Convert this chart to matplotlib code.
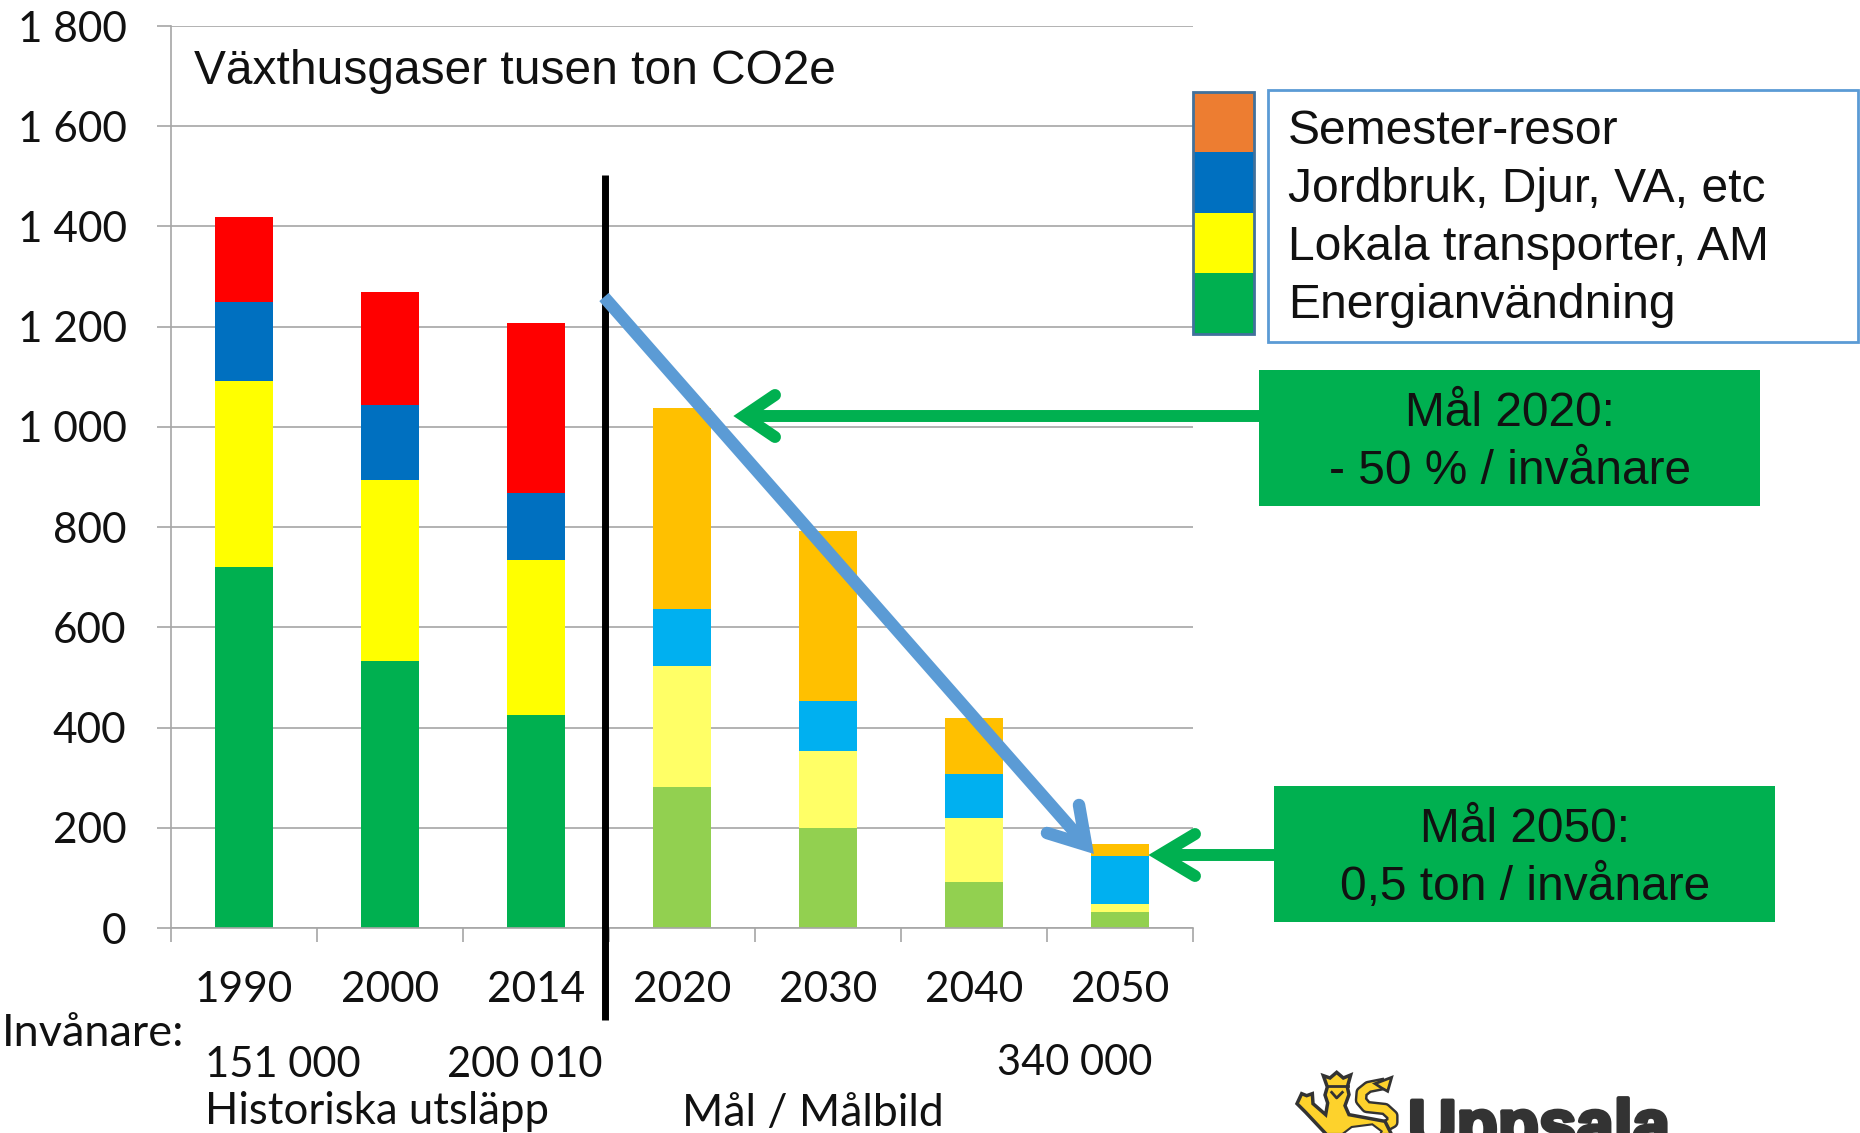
import numpy as np
import matplotlib
matplotlib.use('Agg')
import matplotlib.pyplot as plt
import matplotlib.patheffects as pe
from matplotlib.patches import Rectangle, Polygon

# Valores (tusen ton CO2e)
years = ['1990', '2000', '2014', '2020', '2030', '2040', '2050']
energi = [720, 533, 426, 282, 199, 92, 31]
lokala = [372, 362, 308, 241, 154, 128, 16]
jordbruk = [158, 149, 135, 114, 99, 88, 97]
semester = [168, 225, 339, 400, 341, 111, 24]
yticks = [0, 200, 400, 600, 800, 1000, 1200, 1400, 1600, 1800]
ylabels = ['0', '200', '400', '600', '800', '1 000', '1 200', '1 400', '1 600', '1 800']
legend_names = ['Semester-resor', 'Jordbruk, Djur, VA, etc', 'Lokala transporter, AM', 'Energianvändning']
legend_colors = ['#ED7D31', '#0070C0', '#FFFF00', '#00B050']

# colores: historico vs objetivo
col_energi = ['#00B050'] * 3 + ['#92D050'] * 4
col_lokala = ['#FFFF00'] * 3 + ['#FFFF66'] * 4
col_jord = ['#0070C0'] * 3 + ['#00B0F0'] * 4
col_sem = ['#FF0000'] * 3 + ['#FFC000'] * 4

W, H = 1860, 1133
fig = plt.figure(figsize=(W / 100, H / 100), dpi=100)
calibri = 'Lato'
arial = 'Liberation Sans'
grey = '#A6A6A6'
ink = '#111111'

# ejes principales
ax = fig.add_axes([171 / W, 1 - 928 / H, (1193 - 171) / W, (928 - 26) / H])
x = np.arange(len(years))
bottom = np.zeros(len(years))
for vals, cols in [(energi, col_energi), (lokala, col_lokala), (jordbruk, col_jord), (semester, col_sem)]:
    ax.bar(x, vals, width=0.4, bottom=bottom, color=cols, zorder=2)
    bottom = bottom + np.array(vals)

ax.set_xlim(-0.5, 6.5)
ax.set_ylim(0, 1800)
ax.set_yticks(yticks)
ax.set_yticklabels(ylabels, fontsize=30.5, family=calibri, color=ink)
ax.set_xticks(np.arange(-0.5, 7, 1))
ax.set_xticklabels([])
ax.tick_params(axis='x', length=10, width=1.2, color=grey)
ax.tick_params(axis='y', length=10, width=1.2, color=grey, pad=22)
ax.grid(axis='y', color=grey, lw=1.2, zorder=0)
ax.set_axisbelow(True)
for s in ['top', 'right']:
    ax.spines[s].set_visible(False)
for s in ['left', 'bottom']:
    ax.spines[s].set_color(grey)
    ax.spines[s].set_linewidth(1.2)

# capa en pixeles para textos y flechas
ov = fig.add_axes([0, 0, 1, 1], facecolor='none')
ov.set_xlim(0, W)
ov.set_ylim(H, 0)
ov.axis('off')

for i, y in enumerate(years):
    ov.text(244 + i * 146, 990, y, fontsize=30.5, family=calibri, ha='center', va='center', color=ink)

ov.text(194, 72, 'Växthusgaser tusen ton CO2e', fontsize=34.5, family=arial, va='center', color=ink)
ov.text(2, 1034, 'Invånare:', fontsize=32.5, family=calibri, va='center', color=ink)
ov.text(205, 1065, '151 000', fontsize=30, family=calibri, va='center', color=ink)
ov.text(447, 1065, '200 010', fontsize=30, family=calibri, va='center', color=ink)
ov.text(997, 1063, '340 000', fontsize=30, family=calibri, va='center', color=ink)
ov.text(205, 1112, 'Historiska utsläpp', fontsize=31.5, family=calibri, va='center', color=ink)
ov.text(682, 1114, 'Mål / Målbild', fontsize=32, family=calibri, va='center', color=ink)

# linea vertical
ov.plot([605, 605], [175, 1020], color='black', lw=5, solid_capstyle='butt')

# flecha azul
blue = '#5B9BD5'
ov.plot([604, 1086], [297, 845], color=blue, lw=9, solid_capstyle='butt')
ov.plot([1047, 1086, 1079], [833, 845, 805], color=blue, lw=9, solid_joinstyle='miter', solid_capstyle='round')

# leyenda
box_h = [92, 152, 213, 273, 334]
for i, c in enumerate(legend_colors):
    ov.add_patch(Rectangle((1193, box_h[i]), 61, box_h[i + 1] - box_h[i], fc=c, ec='none'))
ov.add_patch(Rectangle((1193, 92), 61, 242, fc='none', ec='#41719C', lw=2))
ov.add_patch(Rectangle((1268, 90), 590, 252, fc='white', ec=blue, lw=2))
for i, name in enumerate(legend_names):
    ov.text(1288, 132 + i * 57.8, name, fontsize=34.6, family=arial, va='center', color=ink)

# cajas verdes
green = '#00B050'
ov.add_patch(Rectangle((1259, 370), 501, 136, fc=green, ec='none'))
ov.text(1510, 413, 'Mål 2020:', fontsize=34.5, family=arial, ha='center', va='center', color=ink)
ov.text(1510, 471, '- 50 % / invånare', fontsize=34.5, family=arial, ha='center', va='center', color=ink)
ov.add_patch(Rectangle((1274, 786), 501, 136, fc=green, ec='none'))
ov.text(1525, 829, 'Mål 2050:', fontsize=34.5, family=arial, ha='center', va='center', color=ink)
ov.text(1525, 887, '0,5 ton / invånare', fontsize=34.5, family=arial, ha='center', va='center', color=ink)

# flechas verdes
ov.plot([1259, 744], [416, 416], color=green, lw=8.6, solid_capstyle='butt')
ov.plot([775, 744, 775], [395, 416, 437], color=green, lw=8.6, solid_joinstyle='miter', solid_capstyle='round')
ov.plot([1274, 1160], [855, 855], color=green, lw=8.6, solid_capstyle='butt')
ov.plot([1195, 1160, 1195], [834, 855, 876], color=green, lw=8.6, solid_joinstyle='miter', solid_capstyle='round')

# logo: puntos tomados del recorte ampliado x3
def logo_xy(pts):
    return [(1285 + a / 3, 1063 + b / 3) for a, b in pts]

dark = '#333333'
yellow = '#FDD22C'
tail = logo_xy([(300, 62), (250, 72), (230, 88), (228, 112), (245, 132), (300, 138), (322, 158), (322, 178), (300, 190)])
ov.plot(*zip(*tail), color=dark, lw=9, solid_capstyle='butt', zorder=3)
ov.plot(*zip(*tail), color=yellow, lw=5.5, solid_capstyle='butt', zorder=4)
flag = logo_xy([(320, 43), (308, 85), (290, 75), (270, 62)])
ov.add_patch(Polygon(flag, closed=True, fc=yellow, ec=dark, lw=2, zorder=4))
lion = logo_xy([(36, 122), (50, 92), (65, 98), (82, 92), (84, 122), (122, 155), (128, 120), (120, 96), (127, 72),
                (115, 38), (135, 45), (155, 28), (175, 45), (197, 36), (187, 72), (192, 95), (180, 128), (192, 155),
                (300, 175), (320, 215), (125, 215), (62, 148)])
ov.add_patch(Polygon(lion, closed=True, fc=yellow, ec=dark, lw=2.5, zorder=5))
ov.plot(*zip(*logo_xy([(125, 68), (188, 68)])), color=dark, lw=2, zorder=6)
ov.plot(*zip(*logo_xy([(140, 88), (155, 105), (172, 88)])), color=dark, lw=2, zorder=6)
belly = logo_xy([(170, 215), (200, 192), (262, 184), (290, 205), (285, 215)])
ov.add_patch(Polygon(belly, closed=True, fc='white', ec=dark, lw=1.5, zorder=6))
ov.text(1408, 1147, 'Uppsala', fontsize=48.5, family=arial, weight='bold', color=dark, va='baseline',
        path_effects=[pe.withStroke(linewidth=3, foreground=dark)])

fig.savefig('out.png', dpi=100, facecolor='white')
